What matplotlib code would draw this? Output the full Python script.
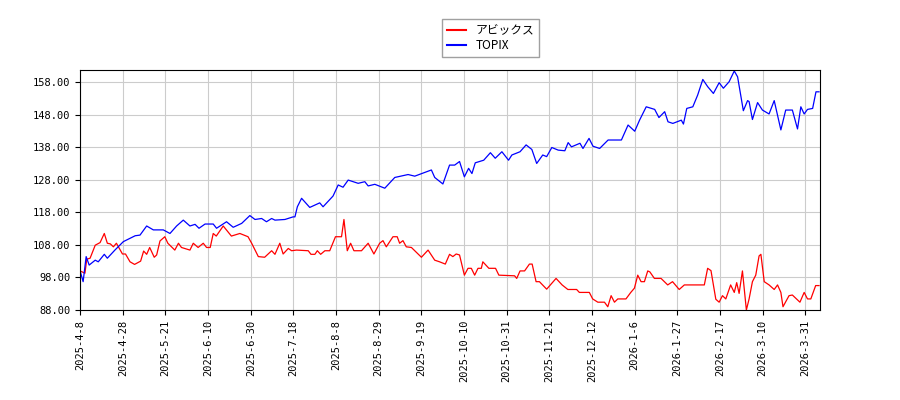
import matplotlib
matplotlib.use("Agg")
import matplotlib.pyplot as plt

topix_x = [0, 1, 2, 3, 5, 6, 8, 9, 11.5, 14.3, 18.2, 19.8, 22, 24.2, 27.5, 29.7, 31.9, 34.1, 36.3, 38,
           39.3, 41.3, 44, 45.1, 48.4, 50.6, 53.4, 56.1, 57.8, 60, 61.6, 63.3, 64.4, 67.7, 70.4, 71, 71.8,
           73.2, 75.9, 79.2, 80.3, 83.6, 85.3, 86.9, 88.6, 91.9, 94.1, 95.2, 97.4, 100.7, 104, 108.4, 110.6,
           116.1, 117.2, 119.9, 122.1, 123.8, 125.4, 127, 128.4, 129.5, 130.6, 133.4, 135.6, 137.2, 139.4,
           141.6, 142.7, 145.4, 147.4, 149.3, 150.9, 152.9, 154.2, 155.9, 158, 160.2, 161.3, 162.4, 165.2,
           166.2, 168.2, 169.5, 171.7, 174.5, 178.9, 181.1, 183.3, 184.9, 187.1, 189.9, 191.3, 193.2, 194.3,
           195.9, 198.7, 199.4, 200.5, 202.5, 204.1, 205.8, 207.4, 209.3, 211.2, 212.6, 214.5, 216.2, 217.3,
           219.2, 220.6, 221.1, 222.2, 223.9, 225.5, 227.7, 229.4, 231.6, 233.2, 235.4, 237.1, 238.2, 239.3,
           240.4, 242.1, 243.2, 244.2]
topix_y = [100.0, 96.7, 104.4, 101.8, 103.3, 102.8, 105.1, 103.9, 106.4, 109.0, 110.8, 111.0, 113.8, 112.6,
           112.6, 111.5, 113.8, 115.6, 113.8, 114.3, 113.1, 114.4, 114.4, 113.1, 115.1, 113.4, 114.6, 117.0,
           115.8, 116.1, 115.1, 116.1, 115.6, 115.8, 116.6, 116.6, 119.7, 122.3, 119.5, 120.9, 119.7, 123.0,
           126.4, 125.7, 127.9, 126.9, 127.4, 126.1, 126.6, 125.4, 128.7, 129.6, 129.1, 131.0, 128.7, 126.7,
           132.5, 132.5, 133.6, 128.9, 131.5, 129.9, 133.2, 134.0, 136.3, 134.6, 136.6, 134.0, 135.6, 136.6,
           138.7, 137.3, 133.0, 135.6, 135.1, 137.9, 137.1, 136.9, 139.4, 138.1, 139.2, 137.6, 140.7, 138.3,
           137.6, 140.2, 140.2, 144.8, 142.9, 146.3, 150.4, 149.6, 147.1, 148.9, 145.8, 145.3, 146.3, 145.1,
           149.9, 150.4, 154.0, 158.8, 156.6, 154.5, 157.8, 156.1, 158.1, 161.4, 159.6, 149.2, 152.3, 152.0,
           146.5, 151.7, 149.4, 148.2, 152.3, 143.3, 149.4, 149.4, 143.6, 150.4, 148.2, 149.6, 149.9, 155.0, 155.0]

apix_x = [0, 1.6, 2.2, 3.3, 5, 6.6, 8, 9, 10, 11, 12, 14, 15, 16.5, 18, 20, 21, 22, 23, 24.5, 25.3, 26.4,
          28, 29, 31.3, 32.5, 33.5, 36.3, 37.4, 39, 40.7, 41.8, 43, 44, 45, 47.3, 50, 52.8, 55.5, 56.7,
          58.9, 61, 63.3, 64.4, 66, 67.1, 68.8, 69.9, 71.5, 75.4, 76.3, 77.6, 78.4, 79.5, 80.9, 82.5, 84.4,
          86.4, 87.2, 88.3, 89.4, 90.5, 93, 95.2, 97.1, 99, 100.1, 101.2, 103.4, 104.8, 105.6, 106.7, 107.8,
          109.5, 110.6, 112.8, 115, 117.2, 118.8, 120.7, 122.1, 123.2, 124.3, 125.4, 127, 128.2, 129.3,
          130.4, 131.5, 132.6, 133.1, 135.1, 137.3, 138.4, 143.6, 144.3, 145.4, 146.9, 148.5, 149.4, 150.7,
          151.8, 154.2, 157.3, 159.3, 161.2, 164.1, 165, 168.3, 169.4, 171.1, 173.3, 174.4, 175.5, 176.6,
          177.7, 180.4, 182, 183.2, 184.3, 185.4, 186.5, 187.6, 188.3, 189.8, 192, 194.2, 195.8, 198, 199.7,
          206.3, 207.4, 208.5, 210.1, 211.2, 212.3, 213.4, 215, 216.2, 217, 217.8, 218.9, 220.2, 221.1,
          222.2, 223.3, 224.4, 225, 226.1, 227.7, 229.4, 230.5, 231.6, 232.3, 234.3, 235.4, 237.9, 239.3,
          240.4, 241.5, 243.1, 244.2]
apix_y = [100.0, 99.3, 103.6, 103.9, 107.9, 108.7, 111.5, 108.5, 108.3, 107.4, 108.5, 105.2, 105.2, 102.8,
          102.0, 103.0, 106.1, 105.1, 107.2, 104.2, 104.9, 109.2, 110.5, 108.5, 106.4, 108.5, 107.2, 106.4,
          108.5, 107.2, 108.5, 107.2, 107.2, 111.5, 110.7, 113.8, 110.7, 111.5, 110.5, 108.5, 104.4, 104.2,
          106.2, 105.1, 108.5, 105.2, 106.9, 106.2, 106.4, 106.2, 105.1, 105.1, 106.2, 105.1, 106.2, 106.2,
          110.5, 110.5, 115.8, 106.2, 108.5, 106.2, 106.2, 108.5, 105.2, 108.5, 109.3, 107.4, 110.5, 110.5,
          108.5, 109.3, 107.4, 107.2, 106.2, 104.2, 106.4, 103.3, 102.8, 102.1, 105.1, 104.4, 105.2, 104.9,
          98.7, 100.8, 100.8, 98.7, 100.8, 100.8, 102.8, 100.8, 100.8, 98.7, 98.5, 97.7, 100.0, 100.0, 102.1,
          102.1, 96.7, 96.7, 94.4, 97.7, 95.7, 94.3, 94.3, 93.4, 93.4, 91.4, 90.4, 90.4, 89.0, 92.4, 90.4,
          91.4, 91.4, 93.4, 94.7, 98.7, 96.7, 96.7, 100.0, 99.7, 97.7, 97.7, 95.7, 96.7, 94.3, 95.7, 95.7,
          100.8, 100.1, 91.3, 90.4, 92.4, 91.4, 95.7, 93.4, 96.4, 93.1, 100.0, 88.0, 91.4, 96.7, 98.7, 104.6,
          105.1, 96.7, 95.7, 94.3, 95.7, 93.4, 89.0, 92.4, 92.6, 90.4, 93.4, 91.4, 91.4, 95.5, 95.5]

tick_labels = ['2025-4-8', '2025-4-28', '2025-5-21', '2025-6-10', '2025-6-30', '2025-7-18', '2025-8-8',
               '2025-8-29', '2025-9-19', '2025-10-10', '2025-10-31', '2025-11-21', '2025-12-12',
               '2026-1-6', '2026-1-27', '2026-2-17', '2026-3-10', '2026-3-31']
tick_pos = [i * 14.1 for i in range(len(tick_labels))]
y_ticks = [88, 98, 108, 118, 128, 138, 148, 158]

fig = plt.figure(figsize=(9, 4), dpi=100)
ax = fig.add_axes([0.089, 0.225, 0.822, 0.6])

ax.plot(apix_x, apix_y, color='red', linewidth=0.9, label='アビックス')
ax.plot(topix_x, topix_y, color='blue', linewidth=0.9, label='TOPIX')

ax.set_xlim(0, 244.5)
ax.set_ylim(88, 161.7)
ax.set_xticks(tick_pos)
ax.set_xticklabels(tick_labels, rotation=90, fontsize=7.5, family='DejaVu Sans Mono')
ax.set_yticks(y_ticks)
ax.set_yticklabels([f'{v:.2f}' for v in y_ticks], fontsize=7.5, family='DejaVu Sans Mono')
ax.grid(True, color='#cccccc', linewidth=0.8)
ax.set_axisbelow(True)

leg = ax.legend(loc='lower center', bbox_to_anchor=(0.555, 1.03),
                prop={'family': ['Noto Sans CJK JP', 'DejaVu Sans Mono'], 'size': 8.5},
                fancybox=False, edgecolor='#888888', borderpad=0.4, handlelength=1.6,
                labelspacing=0.2)
for line in leg.get_lines():
    line.set_linewidth(1.5)

fig.savefig('out.png', dpi=100, facecolor='white')
